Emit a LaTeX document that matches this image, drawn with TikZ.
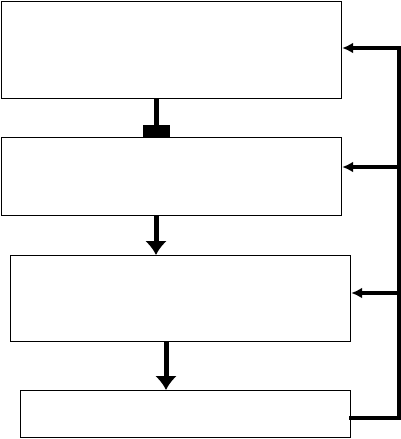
\documentclass[tikz,border=0pt]{standalone}
\usetikzlibrary{arrows.meta}
\begin{document}
\begin{tikzpicture}[x=1pt,y=-1pt,
    box/.style={draw, line width=1.2pt, inner sep=0pt, anchor=north west},
    flow/.style={line width=5pt},
    back/.style={line width=3.5pt, -{Latex[length=11pt,width=11pt]}}]
    \useasboundingbox (0,0) rectangle (401,439);

    % Kaesten
    \node[box, minimum width=340pt, minimum height=97pt] (b1) at (1,1) {};
    \node[box, minimum width=340pt, minimum height=78pt] (b2) at (1,137) {};
    \node[box, minimum width=340pt, minimum height=86pt] (b3) at (10,255) {};
    \node[box, minimum width=330pt, minimum height=47pt] (b4) at (20,390) {};

    % Hilfspunkte
    \coordinate (c1) at (156,0);
    \coordinate (c3) at (166,0);
    \coordinate (r) at (399,0);
    \coordinate (y1) at (0,48);
    \coordinate (y2) at (0,167);
    \coordinate (y3) at (0,293);
    \coordinate (y4) at (0,418);

    % Pfeile nach unten
    \draw[flow, -{Rectangle[length=12pt,width=27pt]}] (b1.south -| c1) -- (b2.north -| c1);
    \draw[flow, -{Latex[length=14pt,width=22pt]}] (b2.south -| c1) -- (b3.north -| c1);
    \draw[flow, -{Latex[length=14pt,width=22pt]}] (b3.south -| c3) -- (b4.north -| c3);

    % Rueckfuehrung
    \draw[line width=3.5pt, line cap=rect] (b4.east |- y4) -- (r |- y4) -- (r |- y1);
    \draw[back] (r |- y1) -- (b1.east |- y1);
    \draw[back] (r |- y2) -- (b2.east |- y2);
    \draw[back] (r |- y3) -- (b3.east |- y3);
\end{tikzpicture}
\end{document}
